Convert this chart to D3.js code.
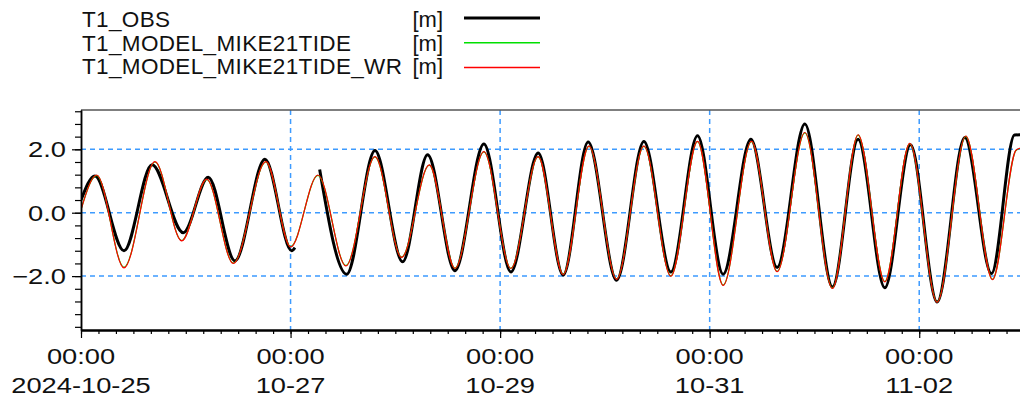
<!DOCTYPE html>
<html>
<head>
<meta charset="utf-8">
<script src="https://cdn.jsdelivr.net/npm/d3@7"></script>
<style>
    body { margin: 0; padding: 0; background: #fff; }
    svg { display: block; }
    text { font-family: "Liberation Sans", Arial, sans-serif; fill: #111; }
</style>
</head>
<body>
<div id="main"></div>
<script>
// series names / unit shown in the legend
const seriesNames = ['T1_OBS', 'T1_MODEL_MIKE21TIDE', 'T1_MODEL_MIKE21TIDE_WR'];
const seriesUnit = '[m]';

// observed water level (null = missing data)
const obsTimes = [
    '2024-10-25 00:00', '2024-10-25 03:12', '2024-10-25 09:51', '2024-10-25 16:16', '2024-10-25 23:26',
    '2024-10-26 05:09', '2024-10-26 11:16', '2024-10-26 18:08', '2024-10-27 00:15', '2024-10-27 01:00',
    '2024-10-27 03:30', '2024-10-27 06:40', '2024-10-27 12:51', '2024-10-27 19:20', '2024-10-28 01:40',
    '2024-10-28 07:24', '2024-10-28 13:39', '2024-10-28 20:17', '2024-10-29 02:28', '2024-10-29 08:43',
    '2024-10-29 14:27', '2024-10-29 20:10', '2024-10-30 02:41', '2024-10-30 08:56', '2024-10-30 15:07',
    '2024-10-30 21:13', '2024-10-31 03:05', '2024-10-31 09:26', '2024-10-31 15:27', '2024-10-31 21:48',
    '2024-11-01 04:08', '2024-11-01 10:00', '2024-11-01 16:07', '2024-11-01 22:00', '2024-11-02 04:06',
    '2024-11-02 10:26', '2024-11-02 16:33', '2024-11-02 21:50', '2024-11-02 23:20'
];
const obsValues = [
    0.40, 1.16, -1.20, 1.51, -0.63,
    1.12, -1.52, 1.69, -1.20, -1.10,
    null, 1.36, -1.94, 1.96, -1.55,
    1.83, -1.83, 2.17, -1.87, 1.88,
    -1.97, 2.23, -2.13, 2.25, -1.87,
    2.43, -1.94, 2.32, -1.73, 2.80,
    -2.34, 2.32, -2.37, 2.14, -2.82,
    2.37, -1.92, 2.45, 2.46
];

// model runs (both share the same time stamps)
const modelTimes = [
    '2024-10-25 00:00', '2024-10-25 03:36', '2024-10-25 09:51', '2024-10-25 16:57', '2024-10-25 23:04',
    '2024-10-26 04:47', '2024-10-26 10:53', '2024-10-26 18:22', '2024-10-27 00:01', '2024-10-27 06:16',
    '2024-10-27 12:41', '2024-10-27 19:20', '2024-10-28 01:26', '2024-10-28 07:46', '2024-10-28 13:39',
    '2024-10-28 20:17', '2024-10-29 02:28', '2024-10-29 08:43', '2024-10-29 14:27', '2024-10-29 20:20',
    '2024-10-30 02:41', '2024-10-30 08:56', '2024-10-30 15:07', '2024-10-30 21:13', '2024-10-31 03:05',
    '2024-10-31 09:35', '2024-10-31 15:27', '2024-10-31 21:48', '2024-11-01 04:08', '2024-11-01 10:00',
    '2024-11-01 16:07', '2024-11-01 21:50', '2024-11-02 04:06', '2024-11-02 10:40', '2024-11-02 16:47',
    '2024-11-02 22:13', '2024-11-03 01:20'
];
const modelValues = [
    0.10, 1.18, -1.72, 1.60, -0.88,
    1.05, -1.59, 1.60, -1.07, 1.18,
    -1.67, 1.76, -1.40, 1.50, -1.75,
    1.92, -1.75, 1.76, -1.94, 2.09,
    -2.09, 2.09, -1.99, 2.24, -2.28,
    2.24, -1.85, 2.52, -2.38, 2.45,
    -2.17, 2.18, -2.81, 2.41, -2.10,
    1.97, 2.11
];
const wrValues = [
    0.09, 1.19, -1.74, 1.61, -0.89,
    1.06, -1.60, 1.61, -1.08, 1.19,
    -1.68, 1.77, -1.41, 1.51, -1.76,
    1.93, -1.76, 1.77, -1.95, 2.10,
    -2.10, 2.10, -2.00, 2.25, -2.29,
    2.25, -1.86, 2.53, -2.39, 2.46,
    -2.18, 2.19, -2.82, 2.42, -2.11,
    1.98, 2.12
];

// axes
const xStart = '2024-10-25 00:00';
const xEnd = '2024-11-03 00:00';
const xMajorTicks = ['2024-10-25 00:00', '2024-10-27 00:00', '2024-10-29 00:00', '2024-10-31 00:00', '2024-11-02 00:00'];
const yMajorTicks = [-2.0, 0.0, 2.0];
const yDomain = [-3.70, 3.24];

const parseTime = d3.timeParse('%Y-%m-%d %H:%M');

const tidePlot = (parentSelector, props) => {
    const {width: WIDTH, height: HEIGHT, left: LEFT, top: TOP, bottom: BOTTOM, right: RIGHT} = props;
    const GRIDCOLOUR = '#3d9bff';
    const LABELSTRETCH = 'scale(1.24,1)';
    const SERIESCOLOURS = ['#000', '#00e000', '#ff0000'];

    const scaleX = d3.scaleTime().domain([parseTime(xStart), parseTime(xEnd)]).range([LEFT, RIGHT]);
    const scaleY = d3.scaleLinear().domain(yDomain).range([BOTTOM, TOP]);

    const canvas = d3.select(parentSelector).append('svg').attr('width', WIDTH).attr('height', HEIGHT);
    canvas.append('defs').append('clipPath').attr('id', 'plot-clip')
        .append('rect').attr('x', LEFT).attr('y', TOP).attr('width', WIDTH - LEFT).attr('height', BOTTOM - TOP);

    // dashed grid
    const grid = canvas.append('g').attr('stroke', GRIDCOLOUR).attr('stroke-width', 1.5).attr('stroke-dasharray', '5,4');
    grid.selectAll('line.hgrid').data(yMajorTicks).enter().append('line').attr('class', 'hgrid')
        .attr('x1', LEFT).attr('x2', WIDTH)
        .attr('y1', (d) => scaleY(d)).attr('y2', (d) => scaleY(d));
    grid.selectAll('line.vgrid').data(xMajorTicks.slice(1).map(parseTime)).enter().append('line').attr('class', 'vgrid')
        .attr('x1', (d) => scaleX(d)).attr('x2', (d) => scaleX(d))
        .attr('y1', TOP).attr('y2', BOTTOM);

    // series
    const obsData = obsTimes.map((t, i) => ({t: parseTime(t), v: obsValues[i]}));
    const modelData = modelTimes.map((t, i) => ({t: parseTime(t), v: modelValues[i]}));
    const wrData = modelTimes.map((t, i) => ({t: parseTime(t), v: wrValues[i]}));
    const lineGen = d3.line()
        .defined((d) => d.v !== null)
        .x((d) => scaleX(d.t))
        .y((d) => scaleY(d.v))
        .curve(d3.curveMonotoneX);
    const lines = canvas.append('g').attr('clip-path', 'url(#plot-clip)').attr('fill', 'none');
    lines.append('path').datum(obsData).attr('d', lineGen).attr('stroke', SERIESCOLOURS[0]).attr('stroke-width', 3).attr('stroke-linejoin', 'round');
    lines.append('path').datum(modelData).attr('d', lineGen).attr('stroke', SERIESCOLOURS[1]).attr('stroke-width', 1.2);
    lines.append('path').datum(wrData).attr('d', lineGen).attr('stroke', SERIESCOLOURS[2]).attr('stroke-width', 1.2);

    // frame
    canvas.append('line').attr('x1', LEFT).attr('x2', WIDTH).attr('y1', TOP).attr('y2', TOP)
        .attr('stroke', '#555').attr('stroke-width', 1.5);

    // x axis: minor ticks every 4 h, major every 2 days
    const axisXMinor = d3.axisBottom(scaleX).tickValues(d3.timeHour.every(4).range(parseTime(xStart), parseTime(xEnd)))
        .tickSize(4).tickSizeOuter(0).tickFormat('');
    const axisXMajor = d3.axisBottom(scaleX).tickValues(xMajorTicks.map(parseTime)).tickSize(8).tickSizeOuter(0).tickFormat('');
    const gx = canvas.append('g').attr('transform', `translate(0, ${BOTTOM})`);
    gx.append('g').call(axisXMinor);
    gx.append('g').call(axisXMajor);
    gx.selectAll('.domain').attr('stroke', '#000').attr('stroke-width', 2);
    gx.selectAll('.tick line').attr('stroke', '#000').attr('stroke-width', 1.2);

    const xLabels = canvas.append('g').selectAll('g').data(xMajorTicks.map(parseTime)).enter().append('g')
        .attr('transform', (d) => `translate(${scaleX(d)}, 0)`);
    xLabels.append('text').attr('transform', LABELSTRETCH).attr('y', 364.5).attr('text-anchor', 'middle')
        .attr('font-size', 22).text((d) => d3.timeFormat('%H:%M')(d));
    xLabels.append('text').attr('transform', LABELSTRETCH).attr('y', 393).attr('text-anchor', 'middle')
        .attr('font-size', 22).text((d, i) => d3.timeFormat(i === 0 ? '%Y-%m-%d' : '%m-%d')(d));

    // y axis: minor ticks every 0.4
    const axisYMinor = d3.axisLeft(scaleY).tickValues(d3.range(-9, 9).map((i) => i * 0.4)).tickSize(6).tickSizeOuter(0).tickFormat('');
    const axisYMajor = d3.axisLeft(scaleY).tickValues(yMajorTicks).tickSize(9).tickSizeOuter(0).tickFormat('');
    const gy = canvas.append('g').attr('transform', `translate(${LEFT}, 0)`);
    gy.append('g').call(axisYMinor);
    gy.append('g').call(axisYMajor);
    gy.selectAll('.domain').attr('stroke', '#000').attr('stroke-width', 1.5);
    gy.selectAll('.tick line').attr('stroke', '#000').attr('stroke-width', 1.2);

    canvas.append('g').selectAll('g').data(yMajorTicks).enter().append('g')
        .attr('transform', (d) => `translate(66, ${scaleY(d) + 8})`)
        .append('text').attr('transform', LABELSTRETCH).attr('text-anchor', 'end').attr('font-size', 22)
        .text((d) => d3.format('.1f')(d));

    // legend
    const legendWidths = [3, 1.5, 1.5];
    const legendRows = canvas.append('g').selectAll('g').data(seriesNames).enter().append('g')
        .attr('transform', (d, i) => `translate(0, ${27 + i * 23.5})`);
    legendRows.append('text').attr('x', 82).attr('font-size', 22.5).attr('letter-spacing', 0.35).text((d) => d);
    legendRows.append('text').attr('x', 443).attr('text-anchor', 'end').attr('font-size', 22).text(seriesUnit);
    legendRows.append('line').attr('x1', 464).attr('x2', 540).attr('y1', (d, i) => -9 + i * 1.2).attr('y2', (d, i) => -9 + i * 1.2)
        .attr('stroke', (d, i) => SERIESCOLOURS[i]).attr('stroke-width', (d, i) => legendWidths[i]);
};

tidePlot('#main', {width: 1020, height: 400, left: 81, right: 1024, top: 110, bottom: 330});
</script>
</body>
</html>
